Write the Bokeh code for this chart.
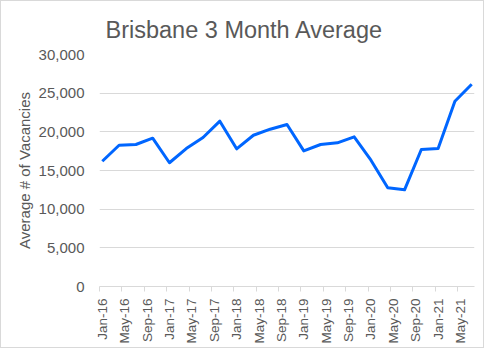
import math
from bokeh.plotting import figure
from bokeh.models import FixedTicker, NumeralTickFormatter, Range1d
from bokeh.embed import file_html
from bokeh.resources import INLINE

# Quarterly 3-month average vacancies
dates = ["Jan-16", "Apr-16", "Jul-16", "Oct-16",
         "Jan-17", "Apr-17", "Jul-17", "Oct-17",
         "Jan-18", "Apr-18", "Jul-18", "Oct-18",
         "Jan-19", "Apr-19", "Jul-19", "Oct-19",
         "Jan-20", "Apr-20", "Jul-20", "Oct-20",
         "Jan-21", "Apr-21", "Jul-21"]
vacancies = [16200, 18270, 18360, 19180,
             16000, 17840, 19270, 21380,
             17800, 19560, 20340, 20950,
             17540, 18360, 18580, 19350,
             16330, 12760, 12500, 17710,
             17850, 23960, 26160]
tick_labels = ["Jan-16", "May-16", "Sep-16", "Jan-17", "May-17", "Sep-17",
               "Jan-18", "May-18", "Sep-18", "Jan-19", "May-19", "Sep-19",
               "Jan-20", "May-20", "Sep-20", "Jan-21", "May-21"]
y_ticks = [0, 5000, 10000, 15000, 20000, 25000, 30000]
title_text = "Brisbane 3 Month Average"

MONTHS = ["Jan", "Feb", "Mar", "Apr", "May", "Jun", "Jul", "Aug", "Sep", "Oct", "Nov", "Dec"]

def month_index(s):
    m, y = s.split("-")
    return (int(y) - 16) * 12 + MONTHS.index(m)

xs = [month_index(d) + 0.5 for d in dates]
label_pos = [month_index(t) + 0.5 for t in tick_labels]
boundaries = [month_index(t) for t in tick_labels]

W, H = 484, 348
LEFT, RIGHT, TOP, BOTTOM = 98, 11, 53, 63
p = figure(width=W, height=H, output_backend="svg", toolbar_location=None,
           x_range=Range1d(0, 67), y_range=Range1d(0, 30000),
           min_border_left=LEFT, min_border_right=RIGHT, min_border_top=TOP,
           min_border_bottom=BOTTOM)
p.styles = {"border": "1px solid #d9d9d9"}

p.title.text = title_text
p.title.align = "left"
p.title.offset = 6
p.title.standoff = 23
p.title.text_font = "Liberation Sans"
p.title.text_font_size = "23.5px"
p.title.text_font_style = "normal"
p.title.text_color = "#595959"

p.line(xs, vacancies, line_color="#0066FF", line_width=3, line_join="round")

p.outline_line_color = None
p.background_fill_color = "white"

# x axis
p.xaxis.ticker = FixedTicker(ticks=label_pos, minor_ticks=boundaries)
p.xaxis.major_label_overrides = {pos: lab for pos, lab in zip(label_pos, tick_labels)}
p.xaxis.major_label_orientation = math.pi / 2
p.xaxis.major_tick_out = 0
p.xaxis.major_tick_in = 0
p.xaxis.minor_tick_out = 5
p.xaxis.minor_tick_in = 0
p.xaxis.minor_tick_line_color = "#d9d9d9"
p.xaxis.axis_line_color = "#d9d9d9"
p.xaxis.major_label_text_font = "Liberation Sans"
p.xaxis.major_label_text_font_size = "13.5px"
p.xaxis.major_label_text_color = "#595959"
p.xaxis.major_label_standoff = 7
p.xgrid.visible = False

# y axis
p.yaxis.ticker = FixedTicker(ticks=y_ticks)
p.yaxis.formatter = NumeralTickFormatter(format="0,0")
p.yaxis.axis_line_color = None
p.yaxis.major_tick_line_color = None
p.yaxis.minor_tick_line_color = None
p.yaxis.major_label_text_font = "Liberation Sans"
p.yaxis.major_label_text_font_size = "15px"
p.yaxis.major_label_text_color = "#595959"
p.yaxis.major_label_standoff = 9
p.yaxis.axis_label = "Average # of Vacancies"
p.yaxis.axis_label_text_font = "Liberation Sans"
p.yaxis.axis_label_text_font_size = "15px"
p.yaxis.axis_label_text_font_style = "normal"
p.yaxis.axis_label_text_color = "#595959"
p.yaxis.axis_label_standoff = 3
p.ygrid.grid_line_color = "#d9d9d9"
p.ygrid.grid_line_width = 1

open("out.html", "w").write(file_html(p, INLINE))
